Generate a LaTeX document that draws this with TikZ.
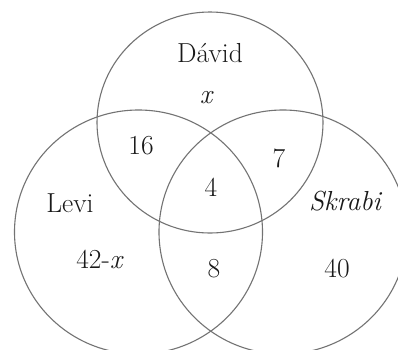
\documentclass[tikz,border=0pt]{standalone}
\begin{document}
\begin{tikzpicture}[x=1pt,y=-1pt,
  ring/.style={draw=black!55, line width=1.1pt},
  lbl/.style={anchor=base, inner sep=0pt, text=black!90, font=\fontsize{27.5}{32}\selectfont}]
\useasboundingbox (0,0) rectangle (398,349);
\clip (0,0) rectangle (398,349);
\fill[white] (0,0) rectangle (398,349);
\draw[ring] (210,122.5) ellipse [x radius=113pt, y radius=110.5pt];
\draw[ring] (138.5,232) ellipse [x radius=124pt, y radius=122pt];
\draw[ring] (283,232) ellipse [x radius=124pt, y radius=122pt];
\node[lbl] (david) at (210,62) {Dávid};
\node[lbl] (xv) at (206,103) {\itshape x};
\node[lbl] (n16) at (141,154) {16};
\node[lbl] (n7) at (279,167) {7};
\node[lbl] (n4) at (211,196) {4};
\node[lbl] (levi) at (70,212) {Levi};
\node[lbl] (skrabi) at (345,210) {\itshape Skrabi};
\node[lbl] (n42) at (100,268) {42-\textit{x}};
\node[lbl] (n8) at (214,277) {8};
\node[lbl] (n40) at (337,277) {40};
\end{tikzpicture}
\end{document}
